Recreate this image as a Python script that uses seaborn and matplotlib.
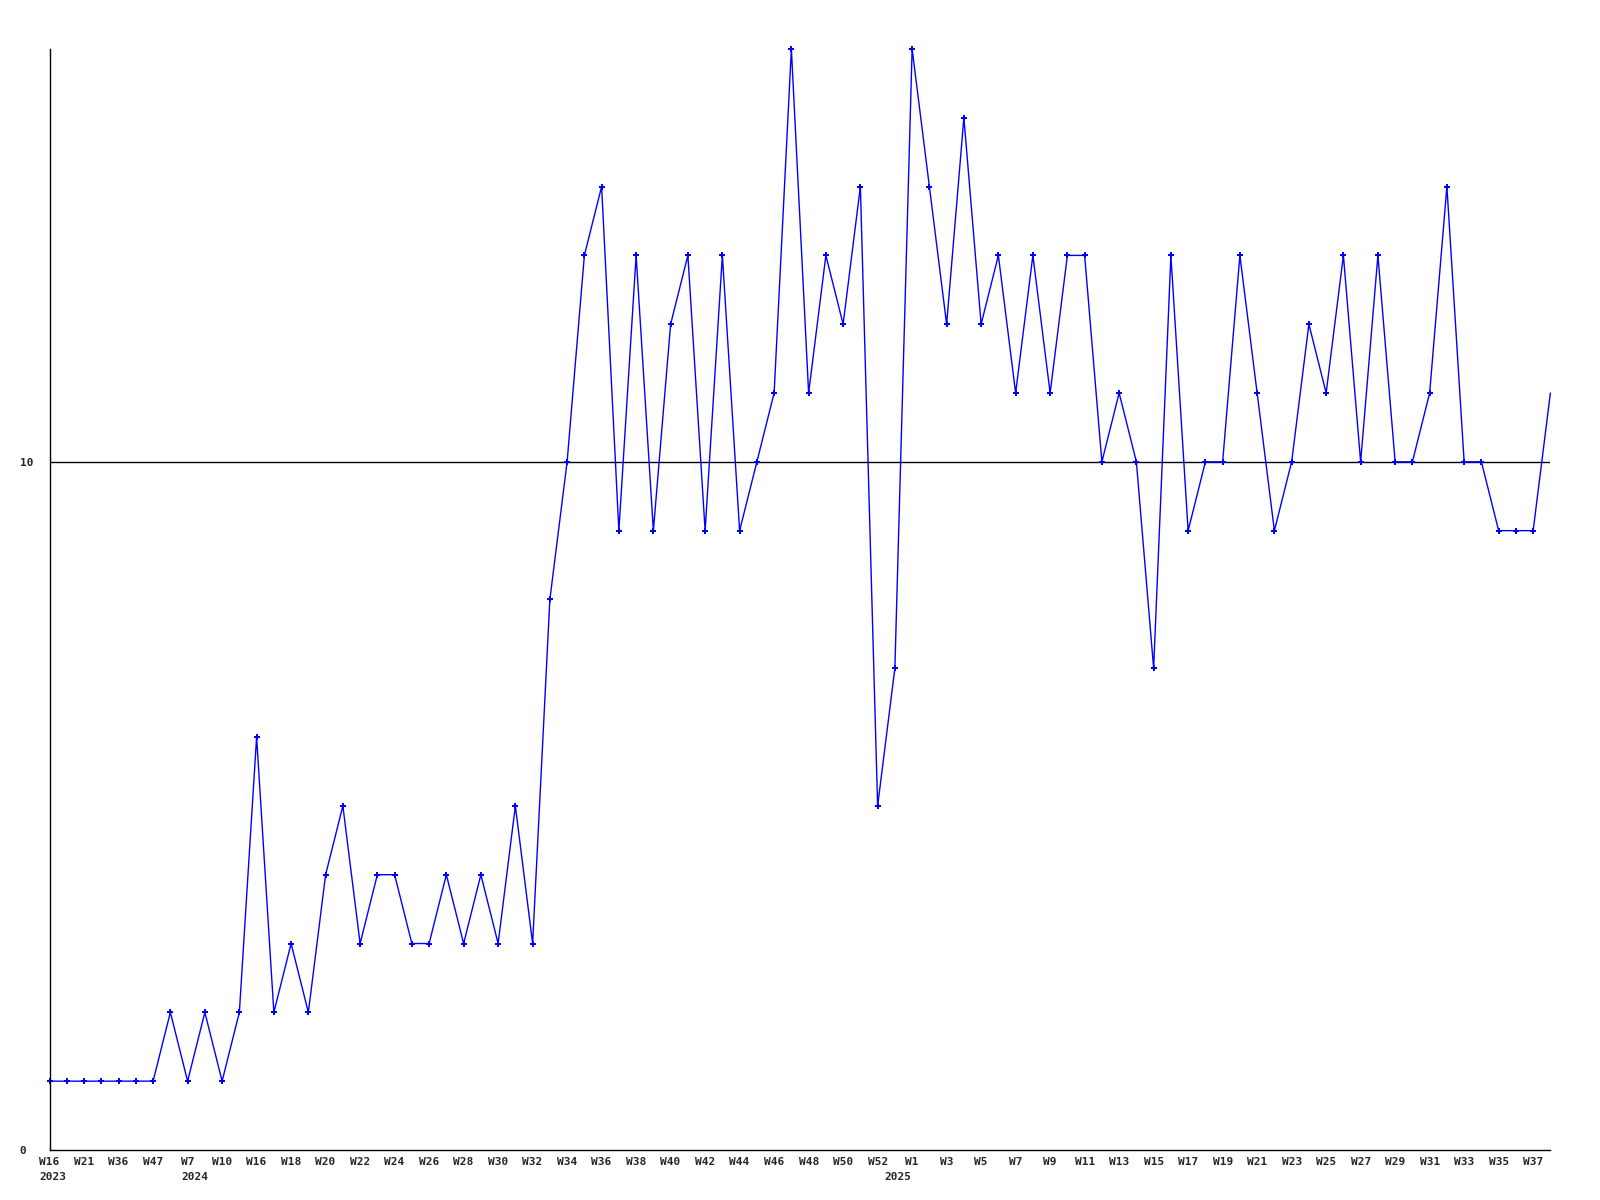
import numpy as np
import pandas as pd
import matplotlib
matplotlib.use("Agg")
import matplotlib.pyplot as plt
import seaborn as sns

# weekly values, one per week shown on the x axis
values = [1, 1, 1, 1, 1, 1, 1, 2, 1, 2, 1, 2,
          6, 2, 3, 2, 4, 5, 3, 4, 4, 3, 3, 4,
          3, 4, 3, 5, 3, 8, 10, 13, 14, 9, 13, 9,
          12, 13, 9, 13, 9, 10, 11, 16, 11, 13, 12, 14,
          5, 7, 16, 14, 12, 15, 12, 13, 11, 13, 11, 13,
          13, 10, 11, 10, 7, 13, 9, 10, 10, 13, 11, 9,
          10, 12, 11, 13, 10, 13, 10, 10, 11, 14, 10, 10,
          9, 9, 9, 11]

# labels on every second point
week_labels = ["W16", "W21", "W36", "W47", "W7", "W10",
               "W16", "W18", "W20", "W22", "W24", "W26", "W28", "W30", "W32",
               "W34", "W36", "W38", "W40", "W42", "W44", "W46", "W48", "W50", "W52",
               "W1", "W3", "W5", "W7", "W9", "W11", "W13", "W15", "W17", "W19",
               "W21", "W23", "W25", "W27", "W29", "W31", "W33", "W35", "W37"]
year_labels = {0: "2023", 8: "2024", 50: "2025"}
y_ticks = [0, 10]
ref_line = 10

# small horizontal nudges (points) for the year captions
year_nudge = {0: 0, 8: 0, 50: -15}

df = pd.DataFrame({"idx": np.arange(len(values)), "value": values})

sns.set_style("white")
plt.rcParams['font.family'] = ['DejaVu Sans Mono']

fig = plt.figure(figsize=(16, 12), dpi=100)
ax = fig.add_axes([0.031, 0.0417, 0.938, 0.9175])

sns.lineplot(data=df, x="idx", y="value", ax=ax, color="#0000ff", linewidth=1,
             marker="P", markersize=4, markeredgewidth=0, clip_on=False,
             markevery=list(range(len(values) - 1)))
ax.axhline(ref_line, color="black", linewidth=1, zorder=1)

ax.set_xlim(0, len(values) - 1)
ax.set_ylim(0, 16)

tick_pos = list(range(0, len(values), 2))[:len(week_labels)]
ax.set_xticks(tick_pos)
ax.set_xticklabels(week_labels, fontsize=8, fontweight="bold")
ax.set_yticks(y_ticks)
ax.set_yticklabels([str(t) for t in y_ticks], fontsize=8, fontweight="bold", ha="left")
ax.tick_params(axis="x", length=0, pad=5)
ax.tick_params(axis="y", length=0, pad=21.6)

for pos, yr in year_labels.items():
    wl = week_labels[tick_pos.index(pos)]
    ax.annotate(yr, xy=(pos, 0), xycoords=("data", "axes fraction"),
                xytext=(-len(wl) * 0.602 * 8 / 2 + year_nudge[pos], -16),
                textcoords="offset points",
                ha="left", va="top", fontsize=8, fontweight="bold")

ax.set_xlabel("")
ax.set_ylabel("")
for s in ["top", "right"]:
    ax.spines[s].set_visible(False)
for s in ["left", "bottom"]:
    ax.spines[s].set_color("black")
    ax.spines[s].set_linewidth(1)

fig.savefig("out.png", dpi=100)
